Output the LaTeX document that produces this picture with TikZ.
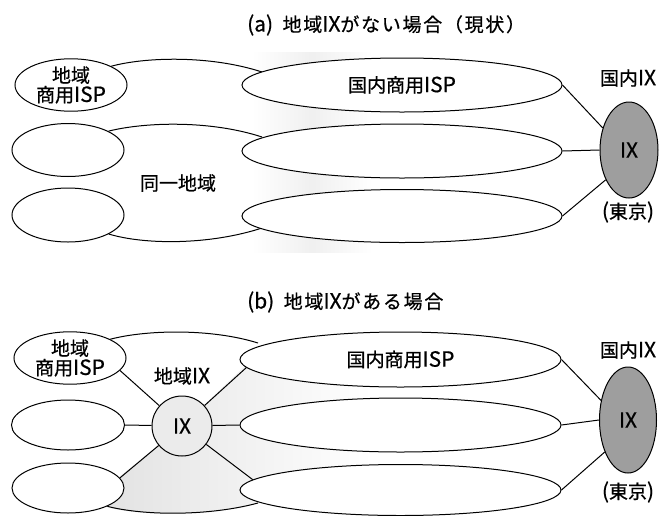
\documentclass[tikz,border=0pt]{standalone}
\usepackage{fontspec}
\setmainfont{Noto Sans CJK JP}[FakeBold=0.6]
\newfontfamily\latf{Noto Sans CJK JP}[Scale=1.1,FakeBold=0.6]
\newfontfamily\titlef{Noto Sans CJK JP}[FakeBold=0.6,LetterSpace=9]
\newcommand\lat[1]{{\latf #1}}
\usetikzlibrary{shapes.geometric}
\begin{document}
\begin{tikzpicture}[x=1pt,y=-1pt,
  lbl/.style={font=\fontsize{19}{19.5}\selectfont,inner sep=0pt,align=center},
  ttl/.style={font=\fontsize{19}{19.5}\selectfont\titlef,inner sep=0pt,anchor=west},
  smallell/.style={ellipse,draw,line width=1pt,fill=white,inner sep=0pt,minimum width=112pt,minimum height=51pt,font=\fontsize{19}{19.5}\selectfont,align=center},
  bigell/.style={ellipse,draw,line width=1pt,fill=white,inner sep=0pt,minimum width=320pt,minimum height=54pt,font=\fontsize{19}{19.5}\selectfont},
  natix/.style={ellipse,draw,line width=1pt,fill=black!38,inner sep=0pt,font=\fontsize{19}{19.5}\selectfont},
  regix/.style={circle,draw,line width=1pt,fill=gray!16,inner sep=0pt,minimum size=60pt,font=\fontsize{19}{19.5}\selectfont},
  link/.style={line width=1pt},
  band/.style={line width=1pt}]
\useasboundingbox (0,0) rectangle (659,515);

% ---------- (a) ----------
\shade[left color=white,right color=white,middle color=gray!12] (252,52) rectangle (372,252);
\node[ttl] (ta) at (247,25) {\lat{(a)}\hspace{0.5em}地域\lat{IX}がない場合（現状）};

\node[smallell] (sa1) at (71,85) {地域\\商用\lat{ISP}};
\node[smallell,minimum height=53pt] (sa2) at (68,150) {};
\node[smallell,minimum height=54pt] (sa3) at (68,215) {};

\draw[band] (sa1.25) .. controls (145,57) and (210,55) .. (262,72);
\draw[band] (sa2.25) .. controls (145,122) and (210,120) .. (262,137);
\draw[band] (sa3.-25) .. controls (145,245) and (210,245) .. (262,228);

\node[bigell] (la1) at (402,85) {国内商用\lat{ISP}};
\node[bigell] (la2) at (402,151) {};
\node[bigell,minimum height=53pt] (la3) at (402,216) {};

\node[lbl] (sameregion) at (178,183) {同一地域};

\node[natix,minimum width=58pt,minimum height=96pt] (na) at (629,150) {\lat{IX}};
\node[lbl] (nal) at (628,78) {国内\lat{IX}};
\node[lbl] (nat) at (628,212) {\lat{(}東京\lat{)}};

\draw[link] (la1.east) -- (na.140);
\draw[link] (la2.east) -- (na.west);
\draw[link] (la3.east) -- (na.232);

% ---------- (b) ----------
\shade[left color=gray!22,right color=white] (182,426) -- (245,366) -- (372,366) -- (372,515) -- (258,503) .. controls (210,516) and (145,516) .. (110,508) -- (118,478) -- cycle;
\node[ttl] (tb) at (247,302) {\lat{(b)}\hspace{0.5em}地域\lat{IX}がある場合};

\node[smallell,minimum height=50pt] (sb1) at (70,358) {地域\\商用\lat{ISP}};
\node[smallell,minimum width=113pt,minimum height=50pt] (sb2) at (68,425) {};
\node[smallell,minimum height=50pt] (sb3) at (68,488) {};

\draw[band] (sb1.25) .. controls (145,330) and (210,328) .. (258,343);
\draw[band] (sb3.-25) .. controls (145,516) and (210,516) .. (258,503);

\node[bigell,minimum width=321pt,minimum height=55pt] (lb1) at (400.5,359.5) {国内商用\lat{ISP}};
\node[bigell,minimum width=321pt] (lb2) at (400.5,425) {};
\node[bigell,minimum width=321pt,minimum height=51pt] (lb3) at (400.5,490) {};

\node[regix] (r) at (182,426) {\lat{IX}};
\node[lbl] (rl) at (182,376) {地域\lat{IX}};

\draw[link] (sb1.-14) -- (r);
\draw[link] (sb2.east) -- (r);
\draw[link] (sb3.11) -- (r);
\draw[link] (r) -- (lb1.183);
\draw[link] (r) -- (lb2.west);
\draw[link] (r) -- (lb3.176);

\node[natix,minimum width=57pt,minimum height=106pt] (nb) at (628,420) {\lat{IX}};
\node[lbl] (nbl) at (628,350) {国内\lat{IX}};
\node[lbl] (nbt) at (628,492) {\lat{(}東京\lat{)}};

\draw[link] (lb1.east) -- (nb.144);
\draw[link] (lb2.east) -- (nb.west);
\draw[link] (lb3.east) -- (nb.234);
\end{tikzpicture}
\end{document}
